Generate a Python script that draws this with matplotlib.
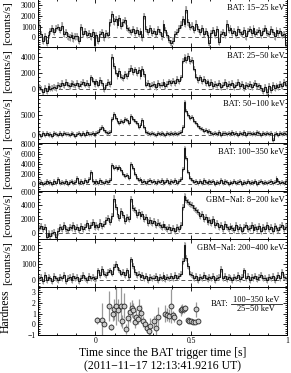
import numpy as np
import matplotlib
matplotlib.use("Agg")
import matplotlib.pyplot as plt
from matplotlib.ticker import MultipleLocator, AutoMinorLocator

plt.rcParams['font.family'] = ['Liberation Serif', 'DejaVu Serif']
plt.rcParams['mathtext.fontset'] = 'stix'

# 10 ms bins from -0.3 s to 1.0 s (bin centres)
t = np.arange(130) * 0.01 - 0.3 + 0.005

bat_15_25 = [1200, 300, -300, 100, -500, 200, 600, 850, 500, 900,
             1000, 700, 1100, 300, 500, 100, 0, 200, -100, 100,
             100, -300, 1000, 300, 600, 200, 400, 100, 500, -700,
             200, -300, 300, 500, 0, 400, 200, 1400, 2200, 1500,
             1700, 1200, 1800, 1100, 1400, 1600, 900, 700, 500, 800,
             400, 700, 300, 600, 0, 2000, 800, 500, 900, 400,
             600, 300, 800, 500, 100, 1300, 700, 200, -200, -500,
             -300, 300, 500, 900, 1200, 1700, 1300, 2600, 1400, 1000,
             1100, 700, 1300, 800, 500, 900, 300, 600, 200, -500,
             400, 700, 200, 800, -400, 300, 500, 200, 1300, 700,
             900, 400, 600, 200, 800, 500, 300, 700, 100, 600,
             800, 400, 900, 300, 500, 700, 200, 600, 900, 400,
             300, 800, 500, 100, 700, 400, 600, 200, 300, -700]

bat_25_50 = [200, 0, -400, 100, -300, 300, 0, 100, 200, 100,
             500, 300, 700, 400, 800, 500, 300, 700, 600, 400,
             700, 300, 600, 800, 500, 700, 400, 1400, 1000, 600,
             900, 500, 1100, 700, -100, 400, 800, 600, 4000, 2800,
             2000, 1600, 2200, 1500, 1300, 1800, 1600, 2200, 2600, 2100,
             2400, 1900, 2300, 1600, 2500, 1800, 500, 700, 300, 500,
             600, 200, 700, 400, 500, 800, 300, 600, 900, 700,
             1000, 700, 1200, 900, 1400, 3500, 4000, 3600, 4100, 3400,
             3600, 2500, 1500, 1100, 1400, 900, 1200, 700, 900, 500,
             800, 300, 600, 400, 700, 200, 500, 800, 300, 600,
             400, 700, 200, 500, 800, 300, 600, 100, 500, 300,
             600, 200, 500, 700, 300, 400, 100, -300, 200, -400,
             300, -200, 500, 100, 400, 200, 600, 300, 800, 500]

bat_50_100 = [300, -200, 400, 100, 600, 0, 300, -300, 500, 200,
              100, 400, -100, 600, 200, 300, 0, 500, 200, -200,
              300, 600, 100, 400, -100, 700, 200, 300, 500, 100,
              400, 800, 1500, 2000, 1300, 800, 600, 700, 4000, 5200,
              4300, 3500, 3000, 3600, 3200, 4100, 3700, 3100, 4800, 4000,
              3500, 3000, 2000, 2600, 3700, 2000, 800, 500, 200, 600,
              300, 100, 500, 200, 600, 300, 0, 400, 200, 500,
              300, 600, 200, 500, 800, 2000, 8200, 6000, 5000, 4200,
              4500, 3600, 3000, 2200, 1800, 1500, 1000, 1200, 700, 900,
              500, 200, 600, 300, 700, 100, 400, 600, 200, 500,
              300, 700, 200, 500, 0, 600, 300, 800, 100, 400,
              600, 200, 500, 300, 700, 400, 100, 500, 200, 600,
              300, 500, -1200, 200, 400, 100, 600, 300, 500, 200]

bat_100_350 = [200, 500, 0, 300, 700, 200, 400, 100, 600, 300,
               1000, 200, 500, 300, 600, 0, 400, 700, 200, 500,
               1200, 300, 600, 200, 800, 400, 1000, 2500, 600, 300,
               700, 300, 900, 500, 200, 600, 400, 800, 3800, 3200,
               3400, 3000, 3500, 2900, 2000, 1600, 1800, 1200, 4000, 3300,
               2000, 1200, 800, 1000, 500, 700, 300, 600, 900, 400,
               600, 200, 700, 400, 800, 300, 500, 900, 200, 600,
               400, 800, 300, 600, 1000, 3000, 7200, 5200, 2500, 1200,
               800, 400, 700, 200, 600, 300, 800, 500, 200, 600,
               400, 700, 100, 500, 300, 800, 200, 600, 400, 100,
               500, 300, 700, 200, 400, 600, 100, 500, 300, 700,
               200, 500, 300, 600, 100, 400, 700, 300, 500, 200,
               400, 600, 300, 500, 1200, 700, 200, 500, 300, 600]

gbm_8_200 = [700, 1000, 600, 900, -600, 0, -500, 0, 100, -600,
             200, 800, 500, 1100, 600, 400, 900, 700, 1200, 500,
             800, 400, 1000, 600, 900, 1400, 700, 1100, 1600, 900,
             1200, 800, 1500, 1000, 1300, 1800, 2200, 1600, 2500, 5000,
             3800, 2800, 2200, 3200, 2600, 1700, 2300, 2000, 4900, 3600,
             3300, 2600, 3000, 2400, 2800, 2000, 2300, 1500, 1800, 1400,
             1700, 1100, 1500, 1200, 900, 1300, 800, 500, 900, 400,
             700, 300, 800, 600, 1200, 3800, 5300, 4800, 4500, 4200,
             4000, 3600, 3300, 3000, 2500, 2800, 2000, 2300, 1600, 1900,
             1500, 2000, 1200, 1400, 800, 1100, 600, 1300, 900, 500,
             1000, 700, 400, 1200, 600, 900, 300, 800, 1100, 500,
             700, 1200, 400, 900, 600, 1000, 300, 800, 500, 1100,
             600, 900, 300, 1000, 700, 400, 800, 1200, 500, 900]

gbm_200_400 = [100, 200, -100, 300, 0, 200, 100, -100, 250, 100,
               0, 200, 100, 300, -100, 150, 200, 0, 250, 100,
               200, -50, 150, 300, 100, 0, 250, 100, 200, 50,
               100, 600, 300, 700, 400, 300, 500, 600, 400, 800,
               1000, 800, 600, 400, 500, 300, 600, 200, 1300, 900,
               500, 300, 400, 200, 300, 100, 250, 0, 200, 100,
               150, 250, 0, 200, 100, 300, 50, 200, 100, 250,
               100, 300, 150, 250, 400, 1200, 2200, 1400, 900, 400,
               300, 100, 250, 0, 200, 100, 300, 150, 50, 200,
               100, 250, 0, 150, 200, 700, 100, 250, 50, 200,
               150, 0, 200, 100, 300, 50, 200, 600, 100, 250,
               0, 200, 100, 250, 50, 200, 300, 100, 150, 0,
               200, 100, 250, 0, 150, 300, 100, 500, 200, 100]

# hardness ratio BAT (100-350 keV)/(25-50 keV)
hr_t = [0.006, 0.032, 0.043, 0.072, 0.080, 0.090, 0.098, 0.107, 0.120, 0.131,
        0.139, 0.150, 0.160, 0.170, 0.180, 0.189, 0.198, 0.206, 0.212, 0.220,
        0.229, 0.240, 0.250, 0.259, 0.269, 0.278, 0.287, 0.307, 0.316, 0.326,
        0.361, 0.373, 0.383, 0.395, 0.403, 0.412, 0.435, 0.444, 0.452, 0.462,
        0.470, 0.482, 0.490, 0.500, 0.507, 0.518, 0.525, 0.534]
hr = [0.36, 0.42, 0.0, 1.7, -0.27, 1.0, 1.4, 1.7, 1.35, 1.75,
      0.3, 1.75, -0.45, 0.58, 1.15, 1.5, 1.3, 0.2, 0.7, 0.5,
      1.5, 1.1, 0.27, 0.0, -0.3, -0.58, -0.2, 0.3, -0.3, 0.7,
      1.0, 0.9, 0.8, 1.75, 0.85, 0.65, 0.2, 1.3, 1.45, 1.4,
      1.55, 0.36, 0.33, 0.3, 0.24, 0.24, 1.4, 0.33]
hr_err = [0.35, 1.6, 0.2, 1.4, 0.3, 0.7, 1.0, 1.8, 1.0, 1.9,
          0.6, 1.2, 0.5, 0.8, 0.9, 0.8, 0.7, 0.5, 0.6, 0.5,
          0.9, 0.7, 0.5, 0.4, 0.4, 0.5, 0.8, 0.5, 0.7, 0.9,
          0.8, 0.6, 0.6, 1.6, 0.4, 0.4, 0.3, 0.5, 0.5, 0.3,
          0.3, 0.2, 0.2, 0.2, 0.2, 0.2, 0.7, 0.2]

panels = [
    (bat_15_25, 300, "BAT: 15\u221225 keV", (-900, 3600), [0, 1000, 2000, 3000]),
    (bat_25_50, 350, "BAT: 25\u221250 keV", (-800, 5200), [0, 2000, 4000]),
    (bat_50_100, 500, "BAT: 50\u2212100 keV", (-2000, 10000), [0, 5000]),
    (bat_100_350, 400, "BAT: 100\u2212350 keV", (-1400, 8200), [0, 2000, 4000, 6000, 8000]),
    (gbm_8_200, 450, "GBM\u2212NaI: 8\u2212200 keV", (-900, 6100), [0, 2000, 4000, 6000]),
    (gbm_200_400, 180, "GBM\u2212NaI: 200\u2212400 keV", (-450, 2600), [0, 1000, 2000]),
]

fig = plt.figure(figsize=(2.91, 3.73), dpi=100)
left, width = 38 / 291, 249 / 291
h = 48 / 373
bottom0 = 1 - 335 / 373

axes = []
for k in range(7):
    ax = fig.add_axes([left, bottom0 + (6 - k) * h, width, h])
    axes.append(ax)

def style(ax):
    ax.set_xlim(-0.3, 1.0)
    ax.xaxis.set_major_locator(MultipleLocator(0.5))
    ax.xaxis.set_minor_locator(MultipleLocator(0.1))
    ax.yaxis.set_minor_locator(AutoMinorLocator())
    ax.tick_params(which='both', direction='in', top=True, right=True,
                   labelsize=5.5, width=0.6, pad=1.5)
    ax.tick_params(which='major', length=3)
    ax.tick_params(which='minor', length=1.5)
    for s in ax.spines.values():
        s.set_linewidth(0.7)
    ax.yaxis.set_label_coords(-0.105, 0.5)

for ax, (vals, err, label, ylim, yt) in zip(axes[:6], panels):
    v = np.array(vals, dtype=float)
    ax.axhline(0, color='0.35', ls='--', lw=0.7, dashes=(4, 3), zorder=1)
    ax.fill_between(t, v - err, v + err, step='mid', color='0.72', lw=0, zorder=2)
    ax.errorbar(t, v, yerr=err, fmt='none', ecolor='0.6', elinewidth=0.8, zorder=2)
    ax.step(t, v, where='mid', color='0.1', lw=0.75, zorder=3)
    ax.set_ylim(*ylim)
    ax.set_yticks(yt)
    style(ax)
    ax.tick_params(labelbottom=False)
    ax.set_ylabel("[counts/s]", fontsize=8)
    ax.text(0.99, 0.9, label, transform=ax.transAxes, ha='right', va='top', fontsize=6)

ax = axes[6]
ax.errorbar(hr_t, hr, yerr=hr_err, fmt='o', color='0.6', ecolor='0.6', elinewidth=0.9,
            ms=3.5, mfc='0.8', mec='0.15', mew=0.6)
ax.set_ylim(-1, 3.5)
ax.set_yticks([-1, 0, 1, 2, 3])
ax.set_yticklabels(["\u22121", "0", "1", "2", "3"])
style(ax)
ax.set_xticks([0, 0.5, 1])
ax.set_xticklabels(["0", "0.5", "1"])
ax.set_ylabel("Hardness", fontsize=8.5)

# ratio label: BAT: (100-350 keV)/(25-50 keV)
ax.text(0.765, 0.645, "BAT:", transform=ax.transAxes, ha='right', va='center', fontsize=6)
ax.text(0.877, 0.655, "100\u2212350 keV", transform=ax.transAxes, ha='center', va='bottom', fontsize=6)
ax.text(0.877, 0.625, "25\u221250 keV", transform=ax.transAxes, ha='center', va='top', fontsize=6)
ax.plot([0.775, 0.98], [0.645, 0.645], transform=ax.transAxes, color='0.1', lw=0.6)

ax.set_xlabel("Time since the BAT trigger time [s]\n(2011\u221211\u221217 12:13:41.9216 UT)",
              fontsize=8.5, labelpad=1.5, linespacing=1.1)

fig.savefig("out.png", dpi=100)
